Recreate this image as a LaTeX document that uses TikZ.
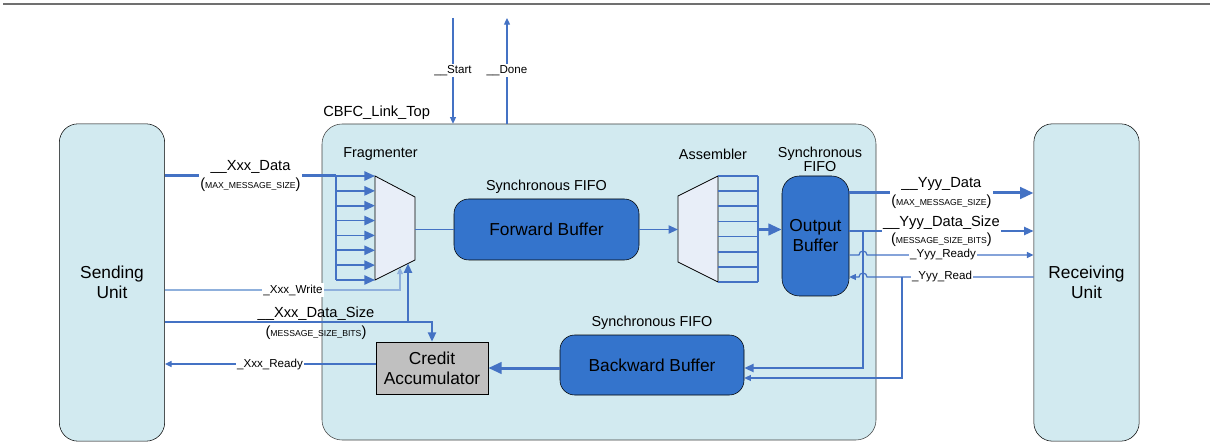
\documentclass[tikz,border=0pt]{standalone}
\usepackage{fontspec}
\setmainfont{Liberation Sans}
\usetikzlibrary{arrows.meta, positioning, calc}

\definecolor{linkfill}{RGB}{210,234,240}
\definecolor{linkblue}{RGB}{68,114,196}
\definecolor{linklight}{RGB}{143,176,220}
\definecolor{fifofill}{RGB}{52,116,204}
\definecolor{muxfill}{RGB}{232,238,248}
\definecolor{creditfill}{RGB}{192,192,192}
\definecolor{rulegray}{RGB}{112,112,112}

% small caps-style parameter under a signal name
\newcommand{\sizeparam}[1]{({\fontsize{6.5}{7}\selectfont #1})}

\begin{document}
\begin{tikzpicture}[x=0.75pt, y=-0.75pt,
  unit/.style={draw, rounded corners=14pt, fill=linkfill, align=center, minimum width=79pt, minimum height=238pt, inner sep=0pt, font=\fontsize{13}{15}\selectfont},
  linkbox/.style={draw=black!75, rounded corners=15pt, fill=linkfill, minimum width=415.5pt, minimum height=237pt, inner sep=0pt},
  fifo/.style={draw, rounded corners=11pt, fill=fifofill, align=center, inner sep=0pt, font=\fontsize{13}{15}\selectfont},
  credit/.style={draw, fill=creditfill, align=center, inner sep=0pt, minimum width=84pt, minimum height=39pt, font=\fontsize{13}{15}\selectfont},
  mux/.style={draw, fill=muxfill, line width=0.6pt, line join=miter},
  caption/.style={inner sep=0pt, align=center, font=\fontsize{10.8}{13}\selectfont},
  sig/.style={fill=white, inner sep=1pt, align=center, font=\fontsize{11}{13}\selectfont},
  sigsmall/.style={fill=white, inner sep=1pt, font=\fontsize{8.7}{10}\selectfont},
  sigline/.style={draw=linkblue, line width=0.9pt},
  sizeline/.style={draw=linkblue, line width=1.5pt},
  dataline/.style={draw=linkblue, line width=2.25pt},
  arrow/.style={-{Triangle[length=5pt, width=4.5pt]}},
  midarrow/.style={-{Triangle[length=7pt, width=6pt]}},
  fanarrow/.style={-{Triangle[length=8pt, width=7pt]}},
  bigarrow/.style={-{Triangle[length=10pt, width=8.5pt]}}
]
\useasboundingbox (0,0) rectangle (1210,445);
\draw[rulegray, line width=1.2pt] (3,4) -- (1210,4);

% link block and the two units
\node[linkbox] (link) at (599,282) {};
\node[caption, font=\fontsize{11}{13}\selectfont, anchor=west] (linkname) at (323,113) {CBFC\_Link\_Top};
\node[unit] (send) at (112,282.5) {Sending\\Unit};
\node[unit] (recv) at (1086.5,282.5) {Receiving\\Unit};

% buffers
\node[fifo, minimum width=138.75pt, minimum height=45.75pt] (fwd) at (546.5,229.5) {Forward Buffer};
\node[caption, above=4pt of fwd] (fwdcap) {Synchronous FIFO};
\node[fifo, rounded corners=13pt, minimum width=50.25pt, minimum height=90pt] (outbuf) at (815.5,236) {Output\\Buffer};
\node[caption, font=\fontsize{10.8}{10.5}\selectfont] (outcap) at (820,159) {Synchronous\\FIFO};
\node[fifo, minimum width=138pt, minimum height=45pt] (bwd) at (652,365) {Backward Buffer};
\node[caption, above=4pt of bwd] (bwdcap) {Synchronous FIFO};
\node[credit] (acc) at (432,368) {Credit\\Accumulator};

% fragmenter and assembler
\coordinate (frag-nw) at (375,176);
\coordinate (frag-ne) at (415,197);
\coordinate (frag-se) at (415,260);
\coordinate (frag-sw) at (375,280);
\draw[mux] (frag-nw) -- (frag-ne) -- (frag-se) -- (frag-sw) -- cycle;
\node[caption] (fragcap) at (380.5,154) {Fragmenter};

\coordinate (asm-nw) at (678,196);
\coordinate (asm-ne) at (718,176);
\coordinate (asm-se) at (718,282);
\coordinate (asm-sw) at (678,262);
\draw[mux] (asm-nw) -- (asm-ne) -- (asm-se) -- (asm-sw) -- cycle;
\node[caption] (asmcap) at (713,154) {Assembler};

% signal rows
\coordinate (rowW) at (0,290);
\coordinate (rowS) at (0,322);
\coordinate (rowY) at (0,364);
\coordinate (rowBA) at (0,368);
\coordinate (rowBB) at (0,378);
\coordinate (rowD) at (0,193);
\coordinate (rowZ) at (0,231);
\coordinate (rowR) at (0,255);
\coordinate (rowQ) at (0,277);

% sending side
\coordinate (xbus) at (336,176);
\foreach \i in {0,...,7} {
  \coordinate (frag-in\i) at ($(frag-nw)!\i/7!(frag-sw)$);
  \draw[sizeline, line width=1.3pt, fanarrow] (xbus |- frag-in\i) -- (frag-in\i);
}
\draw[sizeline, line width=1.8pt] (xbus) -- (xbus |- frag-in7);
\draw[dataline] (send.east |- frag-in0) -- node[sig] (xdatalbl) {\_\_Xxx\_Data\\\sizeparam{MAX\_MESSAGE\_SIZE}} (xbus);

\coordinate (frag-wr) at ($(frag-sw)!0.625!(frag-se)$);
\coordinate (frag-sz) at ($(frag-sw)!0.825!(frag-se)$);
\draw[sigline, draw=linklight, arrow] (send.east |- rowW) -| (frag-wr);
\node[sigsmall] (xwritelbl) at (293,290) {\_Xxx\_Write};
\draw[sizeline, midarrow] (send.east |- rowS) -| (acc.north);
\draw[sizeline, midarrow] (frag-sz |- rowS) -- (frag-sz);
\node[sig, fill=none] (xsizelbl) at (316,323.5) {\_\_Xxx\_Data\_Size\\[1.5pt]\sizeparam{MESSAGE\_SIZE\_BITS}};
\draw[sigline, arrow] (acc.west |- rowY) -- (send.east |- rowY);
\node[sigsmall] (xreadylbl) at (270,364) {\_Xxx\_Ready};

% forward path
\draw[sizeline, line width=1.3pt] (frag-ne |- fwd.west) -- (fwd.west);
\draw[sizeline, line width=1.3pt, midarrow] (fwd.east) -- (asm-nw |- fwd.east);
\coordinate (abus) at (758,176);
\foreach \i in {0,...,7} {
  \coordinate (asm-out\i) at ($(asm-ne)!\i/7!(asm-se)$);
  \draw[sizeline, line width=1.2pt] (asm-out\i) -- (abus |- asm-out\i);
}
\draw[sizeline, line width=1.8pt] (abus) -- (abus |- asm-out7);
\draw[dataline, bigarrow] (abus |- fwd.east) -- (outbuf.west |- fwd.east);

% receiving side
\draw[dataline, bigarrow] (outbuf.east |- rowD) -- node[sig] (ydatalbl) {\_\_Yyy\_Data\\\sizeparam{MAX\_MESSAGE\_SIZE}} (recv.west |- rowD);
\draw[sizeline, midarrow] (outbuf.east |- rowZ) -- node[sig] (ysizelbl) {\_\_Yyy\_Data\_Size\\\sizeparam{MESSAGE\_SIZE\_BITS}} (recv.west |- rowZ);
\coordinate (sizetap) at (863,231);
\draw[sizeline, midarrow] (sizetap) |- (bwd.east |- rowBA);

\coordinate (hopR) at (859,255);
\coordinate (hopQ) at (867,277);
\draw[sigline, arrow] (outbuf.east |- rowR) -- (hopR) arc[start angle=180, end angle=0, radius=3pt] -- (recv.west |- rowR);
\node[sigsmall] (yreadylbl) at (943,255) {\_Yyy\_Ready};
\draw[sigline, arrow] (recv.west |- rowQ) -- (hopQ) arc[start angle=0, end angle=180, radius=3pt] -- (outbuf.east |- rowQ);
\node[sigsmall] (yreadlbl) at (942,277) {\_Yyy\_Read};
\coordinate (readtap) at (902,277);
\draw[sigline, arrow] (readtap) |- (bwd.east |- rowBB);

% backward path into the credit accumulator
\draw[dataline, bigarrow] (bwd.west |- rowBA) -- (acc.east |- rowBA);

% start and done
\coordinate (startsrc) at (453,18);
\coordinate (donedst) at (507,18);
\draw[sigline, arrow] (startsrc) -- node[sigsmall] (startlbl) {\_\_Start} (startsrc |- link.north);
\draw[sigline, arrow] (donedst |- link.north) -- node[sigsmall] (donelbl) {\_\_Done} (donedst);
\end{tikzpicture}
\end{document}
